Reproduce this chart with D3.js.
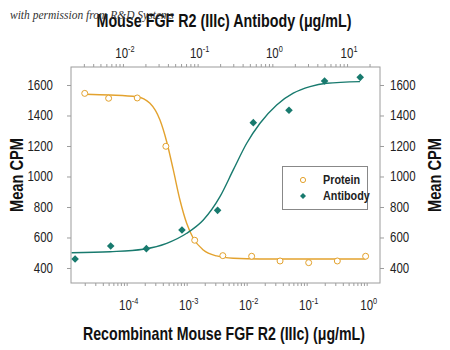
<!DOCTYPE html>
<html><head><meta charset="utf-8">
<script src="https://cdn.jsdelivr.net/npm/d3@7/dist/d3.min.js"></script>
<style>
body{margin:0;background:#fff;}
svg text{font-family:"Liberation Sans Narrow","Liberation Sans",Arial,sans-serif;}
</style></head>
<body>
<svg id="chart" width="450" height="350"></svg>
<script>
// ---- data ----
const proteinConc = [2.0e-5, 5.0e-5, 1.5e-4, 4.5e-4, 1.36e-3, 4.0e-3, 1.21e-2, 3.6e-2, 0.108, 0.324, 0.96];
const proteinCPM  = [1545, 1513, 1515, 1198, 582, 481, 477, 446, 435, 446, 477];
const antibodyConc = [0.00229, 0.00686, 0.0206, 0.0617, 0.185, 0.556, 1.67, 5, 15];
const antibodyCPM  = [459, 544, 527, 649, 778, 1353, 1434, 1626, 1650];
// fitted curves (log10 concentration, CPM)
const proteinFitLog = [-4.695,-4.278,-3.833,-3.612,-3.445,-3.333,-3.223,-3.112,-3.000,-2.890,-2.723,-2.500,-2.223,-1.778,-0.017];
const proteinFitCPM = [1539,1534,1523,1480,1370,1228,1043,846,693,595,518,479,464,459,459];
const antibodyFitLog = [-2.686,-2.173,-1.728,-1.414,-1.146,-0.924,-0.701,-0.523,-0.343,-0.165,0.058,0.280,0.504,0.727,1.173];
const antibodyFitCPM = [500,507,523,562,628,715,868,1043,1218,1349,1469,1546,1589,1611,1622];
// ticks
const yTicks = [400, 600, 800, 1000, 1200, 1400, 1600];
const bottomMajorExp = [-4, -3, -2, -1, 0];
const topMajorExp = [-2, -1, 0, 1];
const seriesNames = ["Protein", "Antibody"];
const titleTop = "Mouse FGF R2 (IIIc) Antibody (\u03bcg/mL)";
const titleBottom = "Recombinant Mouse FGF R2 (IIIc) (\u03bcg/mL)";
const yTitle = "Mean CPM";
const watermark = "with permission from R&D Systems";

// ---- layout ----
const L = 71, R = 380, T = 67, B = 283;
const orange = "#E3A22E", teal = "#187A6E", frame = "#9c9c9c";
const svg = d3.select("#chart");

const xB = d3.scaleLog().domain([Math.pow(10,-4.928), Math.pow(10,0.222)]).range([L, R]);
const xT = d3.scaleLog().domain([Math.pow(10,-2.695), Math.pow(10,1.441)]).range([L, R]);
const y = d3.scaleLinear().domain([301.6, 1718]).range([B, T]);

// frame
svg.append("rect").attr("x", L).attr("y", T).attr("width", R-L).attr("height", B-T)
  .attr("fill", "none").attr("stroke", frame).attr("stroke-width", 1);

function styleAxis(g){
  g.select(".domain").remove();
  g.selectAll(".tick line").attr("stroke", frame);
  g.selectAll(".tick text").remove();
}
// left / right
svg.append("g").attr("transform", `translate(${L},0)`)
  .call(d3.axisLeft(y).tickValues(yTicks).tickSize(4)).call(styleAxis);
svg.append("g").attr("transform", `translate(${R},0)`)
  .call(d3.axisRight(y).tickValues(yTicks).tickSize(4)).call(styleAxis);
// bottom / top (log: majors + minors)
svg.append("g").attr("transform", `translate(0,${B})`)
  .call(d3.axisBottom(xB).tickValues(xB.ticks()).tickSize(3)).call(styleAxis);
svg.append("g").attr("transform", `translate(0,${T})`)
  .call(d3.axisTop(xT).tickValues(xT.ticks()).tickSize(3)).call(styleAxis);

// y labels
const lab = "#222";
yTicks.forEach(v => {
  svg.append("text").attr("transform", `translate(53,${y(v)+5}) scale(0.82,1)`)
    .attr("text-anchor", "end").attr("font-size", 14).attr("fill", lab).text(v);
  svg.append("text").attr("transform", `translate(390,${y(v)+5}) scale(0.82,1)`)
    .attr("text-anchor", "start").attr("font-size", 14).attr("fill", lab).text(v);
});
function powLabel(x, yb, e){
  const t = svg.append("text").attr("transform", `translate(${x},${yb}) scale(0.82,1)`)
    .attr("text-anchor", "middle").attr("font-size", 14).attr("fill", lab);
  t.append("tspan").text("10");
  t.append("tspan").attr("font-size", 9).attr("dy", -6).text(e < 0 ? "-" + (-e) : String(e));
}
bottomMajorExp.forEach(e => powLabel(xB(Math.pow(10,e)) + 2, 310, e));
topMajorExp.forEach(e => powLabel(xT(Math.pow(10,e)) + 2, 58, e));

// titles
svg.append("text").attr("x", 224).attr("y", 27).attr("text-anchor", "middle")
  .attr("font-size", 19).attr("font-weight", "bold").attr("fill", "#111")
  .attr("textLength", 255).attr("lengthAdjust", "spacingAndGlyphs").text(titleTop);
svg.append("text").attr("x", 224).attr("y", 340).attr("text-anchor", "middle")
  .attr("font-size", 19).attr("font-weight", "bold").attr("fill", "#111")
  .attr("textLength", 282).attr("lengthAdjust", "spacingAndGlyphs").text(titleBottom);
svg.append("text").attr("transform", "translate(23,175) rotate(-90)").attr("text-anchor", "middle")
  .attr("font-size", 19).attr("font-weight", "bold").attr("fill", "#111")
  .attr("textLength", 74).attr("lengthAdjust", "spacingAndGlyphs").text(yTitle);
svg.append("text").attr("transform", "translate(441,175) rotate(-90)").attr("text-anchor", "middle")
  .attr("font-size", 19).attr("font-weight", "bold").attr("fill", "#111")
  .attr("textLength", 74).attr("lengthAdjust", "spacingAndGlyphs").text(yTitle);
// watermark
svg.append("text").attr("x", 10).attr("y", 19).attr("font-size", 11.5)
  .attr("font-style", "italic").attr("fill", "#333")
  .style("font-family", "'Liberation Serif','DejaVu Serif',serif").text(watermark);

// curves
const lineB = d3.line().x(d => xB(Math.pow(10,d[0]))).y(d => y(d[1])).curve(d3.curveMonotoneX);
const lineT = d3.line().x(d => xT(Math.pow(10,d[0]))).y(d => y(d[1])).curve(d3.curveMonotoneX);
svg.append("path").attr("d", lineB(proteinFitLog.map((v,i)=>[v, proteinFitCPM[i]])))
  .attr("fill","none").attr("stroke", orange).attr("stroke-width", 1.4);
svg.append("path").attr("d", lineT(antibodyFitLog.map((v,i)=>[v, antibodyFitCPM[i]])))
  .attr("fill","none").attr("stroke", teal).attr("stroke-width", 1.4);

// points
const diamond = "M0,-3.8L3.8,0L0,3.8L-3.8,0Z";
proteinConc.forEach((c,i) => {
  svg.append("circle").attr("cx", xB(c)).attr("cy", y(proteinCPM[i])).attr("r", 3)
    .attr("fill", "#fff").attr("stroke", orange).attr("stroke-width", 1);
});
antibodyConc.forEach((c,i) => {
  svg.append("path").attr("d", diamond)
    .attr("transform", `translate(${xT(c)},${y(antibodyCPM[i])})`).attr("fill", teal);
});

// legend
svg.append("rect").attr("x", 282.5).attr("y", 166.5).attr("width", 85).attr("height", 43)
  .attr("fill", "#fff").attr("stroke", "#888").attr("stroke-width", 1);
svg.append("circle").attr("cx", 303).attr("cy", 180).attr("r", 2.6)
  .attr("fill", "#fff").attr("stroke", orange).attr("stroke-width", 1);
svg.append("path").attr("d", "M0,-3L3,0L0,3L-3,0Z").attr("transform", "translate(303,196)").attr("fill", teal);
[180, 196].forEach((yy, i) => {
  svg.append("text").attr("transform", `translate(323,${yy+4}) scale(0.9,1)`)
    .attr("font-size", 12).attr("font-weight", "bold").attr("fill", "#222").text(seriesNames[i]);
});
</script>
</body></html>
